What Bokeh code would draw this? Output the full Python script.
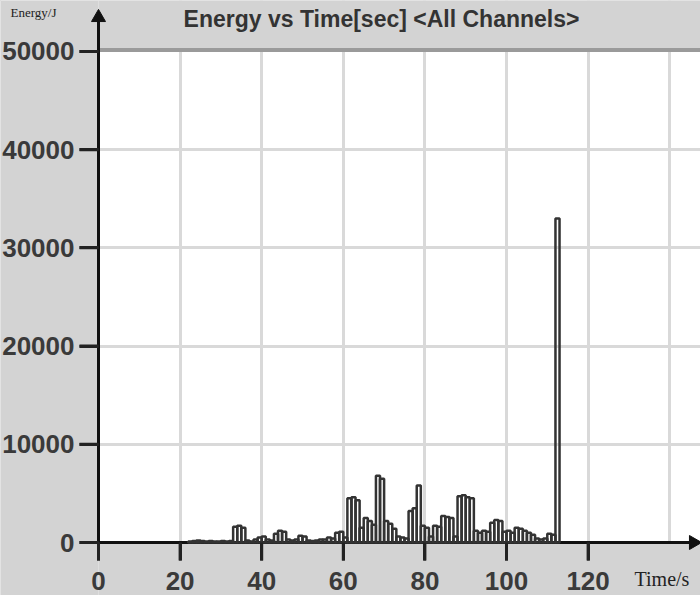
import math
from bokeh.plotting import figure
from bokeh.models import FixedTicker, ColumnDataSource, Range1d
from bokeh.core.properties import value
from bokeh.embed import file_html
from bokeh.resources import INLINE

# ---- data ----
bin_start = list(range(22, 113))  # 1-second bins
energy = [
    100, 150, 200, 150, 100, 150, 100, 100, 150, 100, 150,   # 22-32
    1600, 1700, 1500,                                         # 33-35
    200, 100, 300,                                            # 36-38
    500, 600, 300,                                            # 39-41
    200,                                                      # 42
    900, 1200, 1100,                                          # 43-45
    300, 200, 300,                                            # 46-48
    700, 600,                                                 # 49-50
    200, 150, 200, 300, 300,                                  # 51-55
    500, 400,                                                 # 56-57
    1000, 1100,                                               # 58-59
    500,                                                      # 60
    4500, 4600, 4300,                                         # 61-63
    1500,                                                     # 64
    2500, 2200,                                               # 65-66
    1800,                                                     # 67
    6800, 6500,                                               # 68-69
    2200, 1900,                                               # 70-71
    1400,                                                     # 72
    600, 500, 400,                                            # 73-75
    3200, 3500,                                               # 76-77
    5800,                                                     # 78
    1700, 1500,                                               # 79-80
    600,                                                      # 81
    1700, 1600,                                               # 82-83
    2700, 2600, 2500,                                         # 84-86
    600,                                                      # 87
    4700, 4800, 4600, 4500,                                   # 88-91
    1200,                                                     # 92
    1000, 1200, 1100,                                         # 93-95
    2000, 2300, 2200,                                         # 96-98
    1100, 1200, 1000,                                         # 99-101
    1500, 1400,                                               # 102-103
    1200, 1000, 800,                                          # 104-106
    400, 300, 400,                                            # 107-109
    900, 800,                                                 # 110-111
    33000,                                                    # 112
]
bin_width = 1
x_ticks = [0, 20, 40, 60, 80, 100, 120]
x_grid = [20, 40, 60, 80, 100, 120, 140]
y_ticks = [0, 10000, 20000, 30000, 40000, 50000]
y_grid = [10000, 20000, 30000, 40000]
y_top = 50000
title_text = "Energy vs Time[sec] <All Channels>"
y_label = "Energy/J"
x_label = "Time/s"

# ---- layout (pixels on the 700x595 canvas) ----
W, H = 700, 595
ORIGIN_X, ORIGIN_Y = 98, 542      # pixel position of (0, 0)
KX = 4.08                          # px per second
KY = 494 / 50300                   # px per joule
TICK_Y = 19                        # tick lengths in px
TICK_X = 18
LW = 3                             # axis rule / tick width in px


def dx(px):
    return (px - ORIGIN_X) / KX


def dy(py):
    return (ORIGIN_Y - py) / KY


BG = "#d3d3d3"
DARK = "#333333"
AXC = "#111111"
X0, X1, Y0, Y1 = dx(0), dx(W), dy(H), dy(0)
HX, HY = (LW / 2) / KX, (LW / 2) / KY

src = ColumnDataSource(dict(
    left=bin_start,
    right=[b + bin_width for b in bin_start],
    top=energy,
    bottom=[0] * len(energy),
))

p = figure(width=W, height=H, output_backend="svg", toolbar_location=None,
           x_range=Range1d(X0, X1), y_range=Range1d(Y0, Y1), min_border=0)
p.background_fill_color = "white"
p.border_fill_color = BG
p.outline_line_color = None

# grids
p.xgrid.ticker = FixedTicker(ticks=x_grid)
p.ygrid.ticker = FixedTicker(ticks=y_grid)
for g in (p.xgrid, p.ygrid):
    g.grid_line_color = "#d9d9d9"
    g.grid_line_width = 3

# grey surround outside the plotting area (drawn over the grid lines)
p.quad(left=[X0, 0, 0], right=[0, X1, X1], bottom=[Y0, Y0, y_top], top=[Y1, 0, Y1],
       fill_color=BG, line_color=None)
# heavy grey rule at the top value
p.quad(left=[0], right=[X1], bottom=[y_top - 0.5 / KY], top=[y_top + 3.5 / KY],
       fill_color="#9a9a9a", line_color=None)

# axes (fixed at the origin)
p.xaxis.ticker = FixedTicker(ticks=x_ticks)
p.yaxis.ticker = FixedTicker(ticks=y_ticks)
p.xaxis.fixed_location = 0
p.yaxis.fixed_location = 0
for ax in (p.xaxis, p.yaxis):
    ax.axis_line_color = None
    ax.major_tick_line_color = "#222222"
    ax.major_tick_line_width = LW
    ax.major_tick_in = 0
    ax.minor_tick_line_color = None
    ax.major_label_text_font = "Liberation Sans"
    ax.major_label_text_font_style = "bold"
    ax.major_label_text_font_size = "26px"
    ax.major_label_text_color = "#3a3a3a"
p.yaxis.major_tick_out = TICK_Y
p.yaxis.major_label_standoff = 5
p.xaxis.major_tick_out = TICK_X
p.xaxis.major_label_standoff = 11

# axis rules (running on to the arrow heads) and tick marks
p.quad(left=[-HX, 0], right=[HX, dx(692)], bottom=[0, -HY], top=[dy(18), HY],
       fill_color=AXC, line_color=None)
p.quad(left=[-TICK_Y / KX] * len(y_ticks), right=[0] * len(y_ticks),
       bottom=[t - HY for t in y_ticks], top=[t + HY for t in y_ticks],
       fill_color="#222222", line_color=None)
p.quad(left=[t - HX for t in x_ticks], right=[t + HX for t in x_ticks],
       bottom=[-TICK_X / KY] * len(x_ticks), top=[0] * len(x_ticks),
       fill_color="#222222", line_color=None)

# bars (outlined histogram)
p.quad(left="left", right="right", top="top", bottom="bottom", source=src,
       fill_color=None, line_color=DARK, line_width=2.5)

# arrow heads at the ends of both axes
p.scatter(x=[0], y=[dy(17)], marker="triangle", size=14, angle=0,
          fill_color=AXC, line_color=AXC)
p.scatter(x=[dx(693)], y=[0], marker="triangle", size=14, angle=-math.pi / 2,
          fill_color=AXC, line_color=AXC)

# texts
p.text(x=[dx(381)], y=[dy(18)], text=[title_text], text_align="center", text_baseline="middle",
       text_font=value("Liberation Sans"), text_font_style="bold",
       text_font_size="23px", text_color="#333333")
p.text(x=[dx(33)], y=[dy(12)], text=[y_label], text_align="center", text_baseline="middle",
       text_font=value("Liberation Serif"), text_font_size="13px", text_color="#222222")
p.text(x=[dx(634)], y=[dy(578)], text=[x_label], text_align="left", text_baseline="middle",
       text_font=value("Liberation Serif"), text_font_size="20px", text_color="#222222")

html = file_html(p, INLINE)
html = html.replace("<head>", "<head><style>html,body{background:%s;}</style>" % BG, 1)
open("out.html", "w").write(html)
